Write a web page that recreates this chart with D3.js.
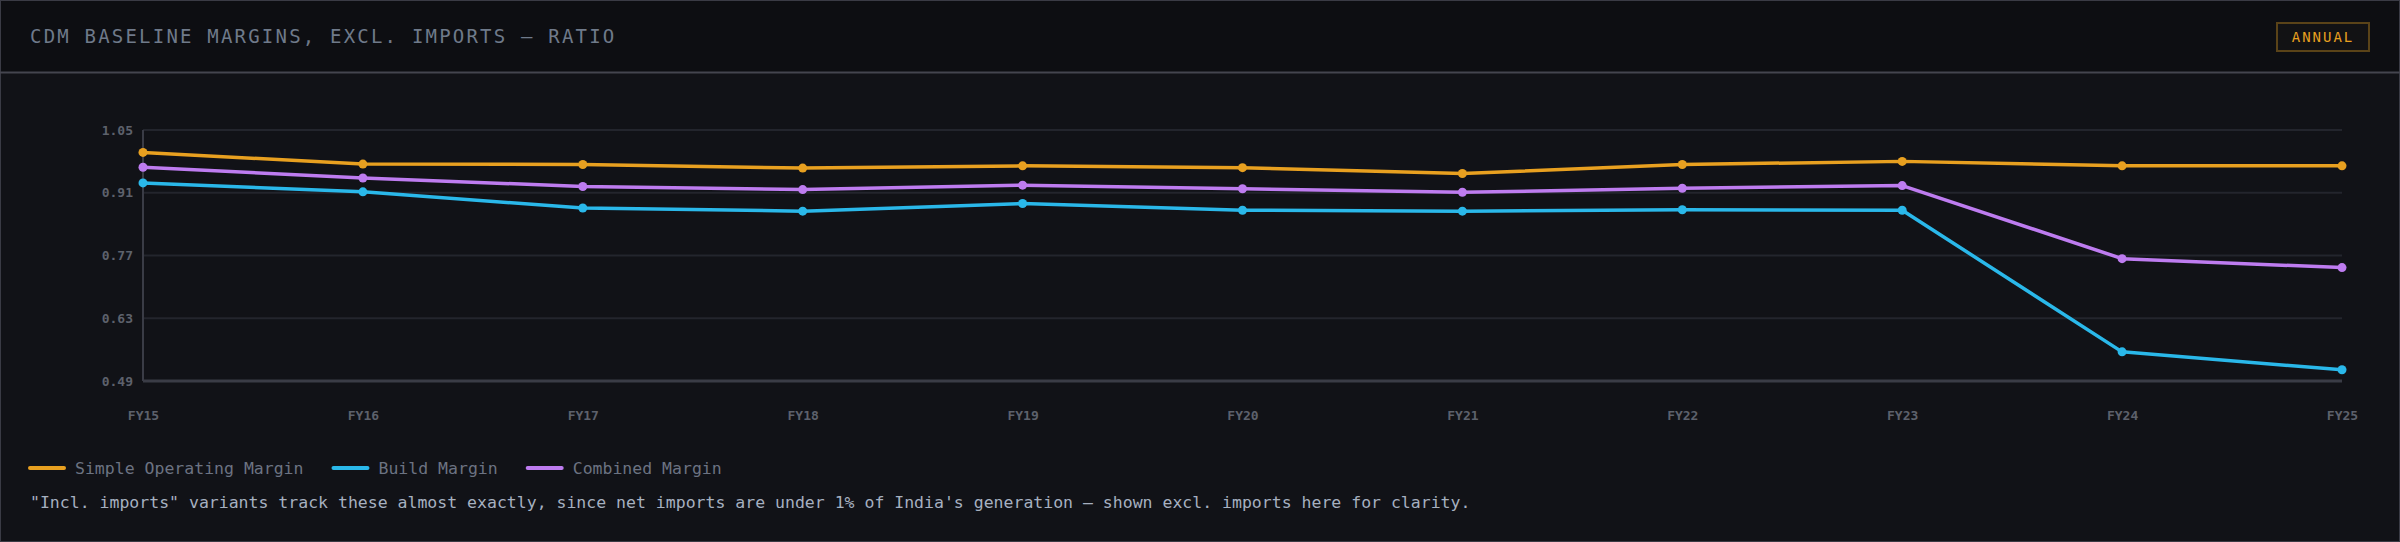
<!DOCTYPE html>
<html><head><meta charset="utf-8">
<script src="https://cdn.jsdelivr.net/npm/d3@7"></script>
<style>
html,body{margin:0;padding:0;background:#111217;}
body{width:2400px;height:542px;overflow:hidden;font-family:"DejaVu Sans Mono","Liberation Mono",monospace;}
</style></head><body>
<svg id="c" width="2400" height="542"></svg>
<script>
const categories = ["FY15","FY16","FY17","FY18","FY19","FY20","FY21","FY22","FY23","FY24","FY25"];
const simpleOperating = [1.000,0.974,0.973,0.965,0.970,0.966,0.953,0.973,0.980,0.970,0.970];
const buildMargin =     [0.932,0.912,0.876,0.869,0.886,0.871,0.869,0.872,0.871,0.555,0.515];
const combinedMargin =  [0.967,0.943,0.924,0.917,0.927,0.919,0.911,0.920,0.926,0.763,0.743];
const yTicks = [1.05,0.91,0.77,0.63,0.49];
const seriesNames = ["Simple Operating Margin","Build Margin","Combined Margin"];
const colors = ["#e8a020","#2ab8ea","#be7cf0"];

const svg = d3.select("#c");
svg.append("rect").attr("x",0.5).attr("y",0.5).attr("width",2399).attr("height",541).attr("fill","#111217").attr("stroke","#3a3b45");
svg.append("rect").attr("x",1).attr("y",1).attr("width",2398).attr("height",71).attr("fill","#0d0e12");
svg.append("line").attr("x1",0).attr("x2",2400).attr("y1",72.5).attr("y2",72.5).attr("stroke","#44454f").attr("stroke-width",2);
svg.append("text").attr("x",30).attr("y",43).attr("fill","#6f7a8a").attr("font-size",19).attr("letter-spacing",2.2).text("CDM BASELINE MARGINS, EXCL. IMPORTS — RATIO");
svg.append("rect").attr("x",2277).attr("y",23).attr("width",92).attr("height",28).attr("fill","#121214").attr("stroke","#5a4318").attr("stroke-width",2);
svg.append("text").attr("x",2323).attr("y",42).attr("text-anchor","middle").attr("fill","#e8a020").attr("font-size",14).attr("letter-spacing",2).text("ANNUAL");

const x = d3.scalePoint().domain(categories).range([143,2342]);
const y = d3.scaleLinear().domain([0.49,1.05]).range([381,130]);

const g = svg.append("g");
g.selectAll(".grid").data(yTicks).join("line").attr("x1",143).attr("x2",2342)
 .attr("y1",d=>y(d)).attr("y2",d=>y(d)).attr("stroke","#23252d").attr("stroke-width",2);
g.append("line").attr("x1",143).attr("x2",143).attr("y1",130).attr("y2",381).attr("stroke","#3a3c46").attr("stroke-width",2);
g.append("line").attr("x1",143).attr("x2",2342).attr("y1",381).attr("y2",381).attr("stroke","#3a3c46").attr("stroke-width",3);

const yAxis = d3.axisLeft(y).tickValues(yTicks).tickFormat(d3.format(".2f")).tickSize(0).tickPadding(10);
g.append("g").attr("transform","translate(143,0)").call(yAxis)
 .call(s=>{s.select(".domain").remove();s.selectAll("text").attr("fill","#5d616c").attr("font-size",13).attr("font-weight","bold").attr("font-family","DejaVu Sans Mono");});
const xAxis = d3.axisBottom(x).tickSize(0).tickPadding(30);
g.append("g").attr("transform","translate(0,381)").call(xAxis)
 .call(s=>{s.select(".domain").remove();s.selectAll("text").attr("fill","#5d616c").attr("font-size",13).attr("font-weight","bold").attr("font-family","DejaVu Sans Mono");});

const allSeries = [simpleOperating,buildMargin,combinedMargin];
const line = d3.line().x((d,i)=>x(categories[i])).y(d=>y(d));
allSeries.forEach((s,k)=>{
  g.append("path").datum(s).attr("d",line).attr("fill","none").attr("stroke",colors[k]).attr("stroke-width",3.5).attr("stroke-linejoin","round");
  g.selectAll(".p"+k).data(s).join("circle").attr("cx",(d,i)=>x(categories[i])).attr("cy",d=>y(d)).attr("r",4.5).attr("fill",colors[k]);
});

// legend
let lx = 30;
const leg = svg.append("g");
seriesNames.forEach((n,k)=>{
  leg.append("line").attr("x1",lx).attr("x2",lx+34).attr("y1",468).attr("y2",468).attr("stroke",colors[k]).attr("stroke-width",4).attr("stroke-linecap","round");
  const t = leg.append("text").attr("x",lx+45).attr("y",474).attr("fill","#6c7382").attr("font-size",16.5).text(n);
  lx += 45 + t.node().getComputedTextLength() + 30;
});
svg.append("text").attr("x",30).attr("y",508).attr("fill","#a6b0c0").attr("font-size",16.5)
 .text("\"Incl. imports\" variants track these almost exactly, since net imports are under 1% of India's generation — shown excl. imports here for clarity.");
</script></body></html>
